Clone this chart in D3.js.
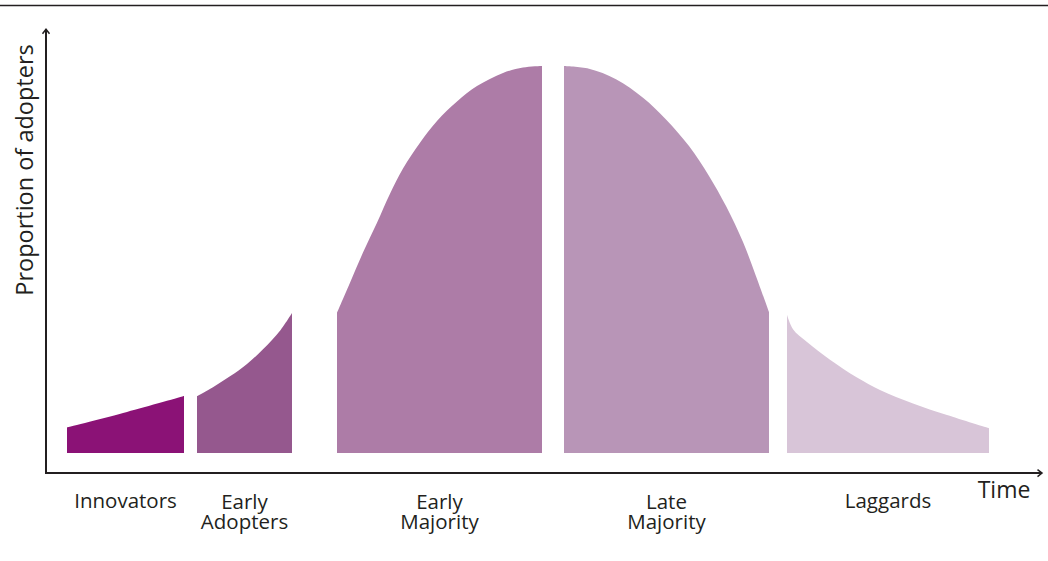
<!DOCTYPE html>
<html>
<head>
<meta charset="utf-8">
<script src="https://cdn.jsdelivr.net/npm/d3@7"></script>
<style>
  html, body { margin: 0; padding: 0; background: #ffffff; }
  svg { display: block; }
  text { font-family: "Open Sans", "Noto Sans", sans-serif; fill: #231f20; }
</style>
</head>
<body>
<svg id="chart" width="1048" height="561"></svg>
<script>
// ---- Data (time in arbitrary units 0-100, proportion relative to peak = 1) ----
const categories = ["Innovators", "Early Adopters", "Early Majority", "Late Majority", "Laggards"];
const labelLines = [["Innovators"], ["Early", "Adopters"], ["Early", "Majority"], ["Late", "Majority"], ["Laggards"]];
const colors = ["#8b1276", "#95588e", "#ad7ca7", "#b895b7", "#d8c5d8"];

const innovators = [
  [2.1, 0.066], [8.1, 0.106], [13.8, 0.147]
];
const earlyAdopters = [
  [15.1, 0.147], [16.7, 0.170], [18.4, 0.198], [20.1, 0.230],
  [21.7, 0.268], [23.4, 0.316], [24.6, 0.362]
];
const earlyMajority = [
  [29.1, 0.362], [30.4, 0.440], [31.7, 0.518], [33.1, 0.595], [34.4, 0.670],
  [35.7, 0.735], [37.4, 0.802], [39.1, 0.858], [41.1, 0.908], [43.1, 0.948],
  [45.7, 0.982], [47.7, 0.996], [49.6, 1.000]
];
const lateMajority = [
  [51.8, 1.000], [54.3, 0.993], [57.0, 0.966], [59.7, 0.918], [62.0, 0.862],
  [64.3, 0.793], [66.3, 0.716], [68.0, 0.638], [69.7, 0.545], [71.0, 0.457],
  [72.3, 0.364]
];
const laggards = [
  [74.1, 0.357], [74.7, 0.320], [76.1, 0.287], [78.4, 0.241], [81.1, 0.195],
  [83.4, 0.163], [86.7, 0.128], [90.1, 0.098], [94.3, 0.064]
];
const segments = [innovators, earlyAdopters, earlyMajority, lateMajority, laggards];

const yAxisTitle = "Proportion of adopters";
const xAxisTitle = "Time";

// ---- Scales ----
const svg = d3.select("#chart");
const x = d3.scaleLinear().domain([0, 100]).range([46, 1046]);
const y = d3.scaleLinear().domain([0, 1]).range([453, 66]);

const axisY0 = -0.052;   // axis sits slightly below the curve baseline
const axisYTop = 1.095;
const axisXEnd = 99.6;

// ---- Top rule ----
svg.append("line")
  .attr("x1", 0).attr("x2", 1048)
  .attr("y1", 5.5).attr("y2", 5.5)
  .attr("stroke", "#231f20").attr("stroke-width", 1.6);

// ---- Areas ----
const area = d3.area()
  .x(d => x(d[0]))
  .y0(y(0))
  .y1(d => y(d[1]))
  .curve(d3.curveCatmullRom.alpha(0.5));

svg.append("g").selectAll("path")
  .data(segments)
  .join("path")
  .attr("d", d => area(d))
  .attr("fill", (d, i) => colors[i]);

// ---- Axes (plain lines with open arrowheads) ----
const axisColor = "#231f20";
const ax = svg.append("g").attr("fill", "none").attr("stroke", axisColor);
ax.append("path")
  .attr("d", d3.line()([[x(0), y(axisYTop)], [x(0), y(axisY0)], [x(axisXEnd), y(axisY0)]]))
  .attr("stroke-width", 2);
const tipY = [x(0), y(axisYTop)];
ax.append("path")
  .attr("d", d3.line()([[tipY[0] - 3.5, tipY[1] + 4.5], tipY, [tipY[0] + 3.5, tipY[1] + 4.5]]))
  .attr("stroke-width", 1.5);
const tipX = [x(axisXEnd), y(axisY0)];
ax.append("path")
  .attr("d", d3.line()([[tipX[0] - 4.5, tipX[1] - 3.5], tipX, [tipX[0] - 4.5, tipX[1] + 3.5]]))
  .attr("stroke-width", 1.5);

// ---- Category labels ----
const lab = svg.append("g").attr("text-anchor", "middle").style("font-size", "20.5px");
segments.forEach((seg, i) => {
  const cx = (x(seg[0][0]) + x(seg[seg.length - 1][0])) / 2;
  const lines = labelLines[i];
  lines.forEach((ln, j) => {
    lab.append("text")
      .attr("x", cx)
      .attr("y", lines.length === 1 ? 507.5 : 509 + j * 19.5)
      .text(ln);
  });
});

// ---- Axis titles ----
svg.append("text")
  .attr("transform", `translate(33,170) rotate(-90)`)
  .attr("text-anchor", "middle")
  .style("font-size", "23.5px")
  .text(yAxisTitle);

svg.append("text")
  .attr("x", 1004).attr("y", 498)
  .attr("text-anchor", "middle")
  .style("font-size", "23px")
  .text(xAxisTitle);
</script>
</body>
</html>
